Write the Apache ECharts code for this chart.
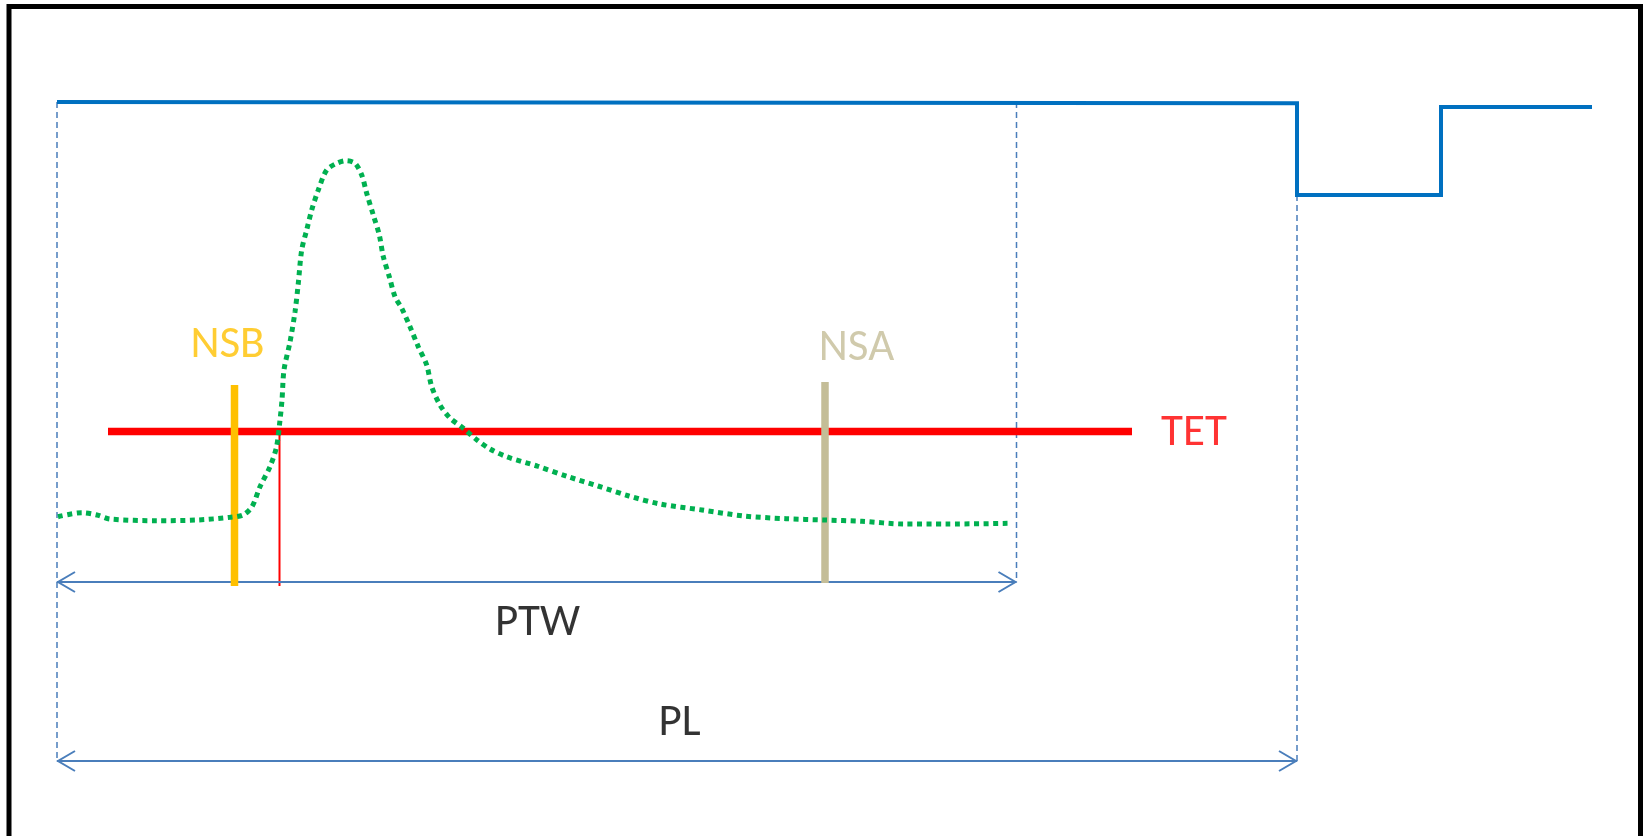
<!DOCTYPE html>
<html>
<head>
<meta charset="utf-8">
<script src="https://cdn.jsdelivr.net/npm/echarts@6/dist/echarts.min.js"></script>
<style>
html,body{margin:0;padding:0;background:#fff;}
#chart{width:1644px;height:836px;}
</style>
</head>
<body>
<div id="chart"></div>
<script>
// ---- data (x = time units, level = signal level units) ----
const stepX = [57, 1297, 1297, 1441, 1441, 1592];
const stepLevel = [734, 732.7, 641, 641, 729, 729];

const pulseX = [58, 82, 97, 110, 157, 197, 230, 243, 252, 260, 270, 276.5, 280, 282, 284, 290, 295, 298.3, 301.7, 306.7, 311.7, 318.3, 326.7, 336.7, 346, 355, 361.7, 366.7, 373.3, 379.3, 383.3, 389.3, 395, 401.7, 410, 418.3, 426.7, 431.7, 440, 450, 463, 477, 490, 506.5, 537, 568, 598, 629, 660, 702, 744, 786, 824, 862, 904, 947, 1012];
const pulseLevel = [319.3, 323.3, 321, 317, 315.3, 316, 318.7, 321, 329.3, 349.3, 369.3, 389, 416, 436, 466, 494, 524, 552.7, 586, 606, 626, 646, 666, 672.7, 675.3, 672.7, 661, 642.7, 621, 601, 579.3, 559.3, 539.3, 527.7, 509.3, 489.3, 471, 449.3, 431, 418, 408, 396, 387, 379.3, 370, 359.3, 350, 340, 332, 326, 320, 317.3, 316, 314.7, 312, 312, 312.7];

const guideX = [57, 1016.5, 1297];
const guideTop = [734, 734, 641];
const guideBottom = [75, 254, 75];

const spanNames = ['PTW', 'PL'];
const spanStart = [57, 57];
const spanEnd = [1016.5, 1297];
const spanLevel = [254, 75];

const markerNames = ['NSB', 'NSA'];
const markerX = [234.5, 825];
const markerTop = [451, 454];
const markerBottom = [250, 253];

const tetStart = 108, tetEnd = 1132, tetLevel = 404.5;
const crossX = 279.5, crossBottom = 250;

const labelText = ['NSB', 'NSA', 'TET', 'PTW', 'PL'];
const labelX = [227.5, 856.5, 1194, 537.5, 679.5];
const labelLevel = [490.5, 487, 402, 212, 112];
const labelColors = ['#FFC000', '#C4BD97', '#FF0000', '#000000', '#000000'];
const markerColors = ['#FFC000', '#C4BD97'];

// ---- chart ----
const chart = echarts.init(document.getElementById('chart'), null, {renderer: 'canvas'});
const zip = (xs, ys) => xs.map((x, i) => [x, ys[i]]);
const series = [];

guideX.forEach((x, i) => {
  series.push({
    type: 'line', symbol: 'none', silent: true, z: 1,
    data: [[x, guideTop[i]], [x, guideBottom[i]]],
    lineStyle: {color: '#4A7EBB', width: 1.5, type: [6, 4]}
  });
});

series.push({
  type: 'line', symbol: 'none', z: 3,
  data: zip(stepX, stepLevel),
  lineStyle: {color: '#0070C0', width: 4, join: 'miter'}
});

series.push({
  type: 'line', symbol: 'none', z: 2,
  data: [[tetStart, tetLevel], [tetEnd, tetLevel]],
  lineStyle: {color: '#FF0000', width: 7.5, cap: 'butt'}
});
series.push({
  type: 'line', symbol: 'none', z: 2,
  data: [[crossX, tetLevel], [crossX, crossBottom]],
  lineStyle: {color: '#FF0000', width: 2}
});

markerX.forEach((x, i) => {
  series.push({
    type: 'line', symbol: 'none', z: 4,
    data: [[x, markerTop[i]], [x, markerBottom[i]]],
    lineStyle: {color: markerColors[i], width: 7.5, cap: 'butt'}
  });
});

series.push({
  type: 'line', symbol: 'none', z: 5, smooth: 0.3,
  data: zip(pulseX, pulseLevel),
  lineStyle: {color: '#00B050', width: 5, type: [5, 4.5], cap: 'butt'}
});

series.push({
  type: 'custom', z: 3,
  data: spanNames.map((n, i) => [spanStart[i], spanEnd[i], spanLevel[i]]),
  renderItem: function (params, api) {
    const a = api.coord([api.value(0), api.value(2)]);
    const b = api.coord([api.value(1), api.value(2)]);
    const L = 18, H = 10;
    const style = {stroke: '#4A7EBB', lineWidth: 2, fill: null};
    return {
      type: 'group',
      children: [
        {type: 'line', shape: {x1: a[0], y1: a[1], x2: b[0], y2: b[1]}, style: style},
        {type: 'polyline', shape: {points: [[a[0] + L, a[1] - H], [a[0] + 1, a[1]], [a[0] + L, a[1] + H]]}, style: style},
        {type: 'polyline', shape: {points: [[b[0] - L, b[1] - H], [b[0] - 1, b[1]], [b[0] - L, b[1] + H]]}, style: style}
      ]
    };
  }
});

series.push({
  type: 'scatter', symbolSize: 0, z: 6,
  data: labelText.map((t, i) => ({
    name: t, value: [labelX[i], labelLevel[i]],
    label: {color: labelColors[i]}
  })),
  label: {
    show: true, position: 'inside',
    formatter: p => p.name,
    fontFamily: 'Carlito, Calibri, Lato, sans-serif',
    fontSize: 45,
    textBorderWidth: 0
  }
});

chart.setOption({
  animation: false,
  grid: {left: 0, right: 0, top: 0, bottom: 0},
  xAxis: {type: 'value', min: 0, max: 1644, show: false},
  yAxis: {type: 'value', min: 0, max: 836, show: false},
  graphic: [
    {type: 'rect', shape: {x: 9, y: 6.5, width: 1631.5, height: 850}, style: {fill: null, stroke: '#000', lineWidth: 5}, z: 100}
  ],
  series: series
});
</script>
</body>
</html>
